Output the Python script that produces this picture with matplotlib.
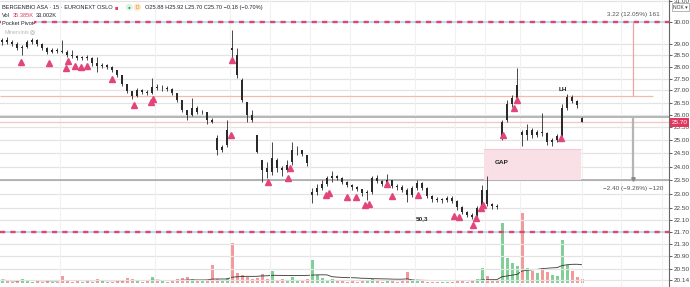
import matplotlib
matplotlib.use('Agg')
import matplotlib.pyplot as plt
import matplotlib.ticker as mticker
import matplotlib.transforms as mtransforms
import pandas as pd

# 15 min bars, BERGENBIO ASA (prices in NOK)
opens = [29.10, 29.19, 29.10, 29.01, 28.83, 28.88, 29.10, 29.19, 29.01, 28.83,
         28.65, 28.74, 28.70, 28.65, 28.52, 28.48, 28.39, 28.43, 28.39, 28.17,
         28.04, 28.09, 28.00, 27.87, 27.66, 27.27, 26.98, 26.77, 27.02, 26.94,
         26.89, 27.15, 27.10, 27.10, 27.06, 26.89, 26.61, 26.20, 26.00, 26.28,
         26.12, 26.12, 25.80, 25.10, 24.63, 24.83, 28.83, 28.52, 27.44, 26.53,
         26.00, 25.21, 24.26, 23.95, 23.81, 24.26, 23.95, 23.88, 24.18, 24.63,
         24.63, 24.44, 22.98, 23.09, 23.23, 23.38, 23.59, 23.66, 23.59, 23.45,
         23.34, 23.27, 23.20, 23.05, 23.09, 23.59, 23.48, 23.38, 23.52, 23.30,
         23.27, 23.16, 22.98, 23.23, 23.41, 23.23, 22.94, 22.84, 22.80, 22.80,
         22.87, 22.76, 22.55, 22.38, 22.28, 22.21, 22.52, 23.16, 22.66, 22.59,
         25.10, 25.80, 26.44, 26.69, 25.33, 25.21, 25.41, 25.21, 25.33, 25.29,
         24.94, 25.02, 25.17, 26.28, 26.73, 26.57, 25.88]
highs = [29.28, 29.33, 29.19, 29.10, 28.97, 29.19, 29.28, 29.24, 29.06, 28.88,
         28.83, 28.83, 29.19, 28.74, 28.74, 28.52, 28.48, 28.52, 28.43, 28.43,
         28.17, 28.13, 28.04, 27.87, 27.66, 27.27, 26.98, 27.10, 27.06, 27.02,
         27.53, 27.27, 27.23, 27.19, 27.10, 26.89, 26.61, 26.20, 26.69, 26.36,
         26.20, 26.12, 25.88, 25.21, 24.83, 25.80, 29.65, 28.83, 27.53, 26.53,
         26.20, 25.21, 24.26, 24.18, 24.94, 24.33, 24.03, 24.26, 24.94, 24.79,
         24.63, 24.44, 23.23, 23.38, 23.52, 23.66, 23.85, 23.70, 23.62, 23.48,
         23.38, 23.30, 23.20, 23.16, 23.66, 23.70, 23.52, 23.74, 23.52, 23.38,
         23.34, 23.23, 23.30, 23.52, 23.45, 23.27, 22.98, 22.91, 22.87, 22.94,
         22.94, 22.80, 22.59, 22.41, 22.35, 22.59, 23.34, 23.66, 22.69, 22.66,
         25.80, 26.61, 26.81, 27.96, 25.41, 25.65, 25.49, 25.41, 26.08, 25.33,
         25.10, 25.25, 26.44, 26.85, 26.81, 26.61, 25.92]
lows = [28.97, 29.01, 28.92, 28.74, 28.52, 28.83, 29.01, 28.92, 28.74, 28.56,
        28.61, 28.61, 28.61, 28.43, 28.39, 28.30, 28.30, 28.30, 28.04, 27.78,
        27.96, 27.91, 27.78, 27.57, 27.19, 26.89, 26.65, 26.73, 26.85, 26.81,
        26.85, 27.02, 26.98, 26.98, 26.81, 26.53, 26.12, 25.80, 25.96, 26.04,
        26.04, 25.65, 25.68, 24.44, 24.55, 24.75, 28.39, 27.53, 26.53, 25.72,
        25.72, 24.52, 23.45, 23.59, 23.70, 23.81, 23.66, 23.81, 24.07, 24.44,
        24.40, 24.03, 22.69, 22.98, 23.16, 23.30, 23.45, 23.52, 23.38, 23.27,
        23.16, 23.12, 22.94, 22.80, 23.02, 23.41, 23.30, 23.30, 23.23, 23.16,
        23.09, 22.73, 22.91, 23.16, 23.16, 22.87, 22.73, 22.73, 22.69, 22.73,
        22.69, 22.45, 22.31, 22.21, 22.14, 22.18, 22.45, 22.59, 22.48, 22.48,
        25.02, 25.72, 26.32, 26.61, 24.79, 25.02, 25.10, 25.13, 25.17, 24.83,
        24.79, 24.94, 25.10, 26.20, 26.48, 26.28, 25.70]
closes = [29.19, 29.10, 29.01, 28.83, 28.88, 29.10, 29.19, 29.01, 28.83, 28.65,
          28.74, 28.70, 28.65, 28.52, 28.48, 28.39, 28.43, 28.39, 28.17, 28.04,
          28.09, 28.00, 27.87, 27.66, 27.27, 26.98, 26.77, 27.02, 26.94, 26.89,
          27.15, 27.10, 27.10, 27.06, 26.89, 26.61, 26.20, 26.00, 26.28, 26.12,
          26.12, 25.80, 25.72, 24.63, 24.75, 25.41, 28.74, 27.66, 26.61, 26.00,
          25.80, 24.55, 23.88, 23.81, 24.33, 23.95, 23.88, 24.07, 24.63, 24.63,
          24.48, 24.14, 23.09, 23.23, 23.38, 23.59, 23.66, 23.59, 23.45, 23.34,
          23.27, 23.20, 23.05, 23.09, 23.59, 23.48, 23.38, 23.52, 23.30, 23.27,
          23.16, 22.98, 23.23, 23.41, 23.23, 22.94, 22.84, 22.80, 22.80, 22.87,
          22.76, 22.55, 22.38, 22.28, 22.21, 22.52, 23.16, 22.66, 22.59, 22.55,
          25.72, 26.44, 26.69, 27.23, 25.21, 25.41, 25.21, 25.33, 25.29, 24.94,
          25.02, 25.17, 26.28, 26.73, 26.57, 26.40, 25.70]
volumes = [6, 4, 3, 4, 8, 6, 3, 4, 3, 4, 3, 3, 14,
           4, 3, 6, 3, 4, 3, 8, 4, 3, 3, 4, 6, 10, 8, 4, 3, 4, 12, 6, 4, 3,
           4, 8, 10, 12, 8, 6, 4, 4,
           36, 8, 6, 10, 80, 20, 16, 12, 8, 10, 18, 8, 24, 6, 8, 6, 12, 6,
           4, 8, 46, 16, 10, 6, 8, 4, 4, 3, 4, 3, 4, 6, 8, 4, 3, 4, 4, 3,
           4, 22, 6, 4, 4, 3, 3, 3, 3, 3, 3, 4, 4, 3, 6, 8, 30, 14, 5, 4,
           120, 50, 40, 34, 140, 30, 24, 20, 30, 22, 16, 14, 86, 36, 24, 12, 8]

# Pocket pivot signals (bar position, price)
pivot_bars = [3.8, 9.4, 13.2, 12.8, 14.6, 15.8, 17.0, 22.0, 26.4, 29.8, 30.2,
              46.0, 45.8, 53.2, 57.2, 57.6, 64.8, 65.4, 69.0, 70.8, 72.6, 73.4,
              77.0, 78.0, 83.2, 90.4, 91.4, 94.2, 94.8, 95.8, 96.2, 100.2,
              102.4, 103.0, 111.8]
pivot_prices = [28.21, 28.17, 28.26, 27.96, 28.04, 28.00, 28.04, 27.49, 26.40,
                26.53, 26.65, 28.30, 25.21, 23.44, 23.59, 23.95, 22.98, 23.05,
                22.91, 22.91, 22.62, 22.66, 23.37, 22.94, 22.98, 22.24, 22.21,
                21.94, 22.18, 22.52, 22.62, 25.21, 26.28, 26.61, 25.10]

day_starts = [11.5, 30.5, 45.5, 53.5, 61.5, 69.5, 82.5, 90.5, 96.5, 103.5,
              116.0, 123.8, 132.0]

price_ticks = [20.14, 20.50, 20.90, 21.30, 21.70, 22.10, 22.50, 23.00, 23.50,
               24.00, 24.50, 25.00, 25.50, 26.00, 26.50, 27.00, 27.50, 28.00,
               28.50, 29.00, 30.00, 31.00]

resistance = 30.00
support = 21.70
range_up = (26.78, 30.00)
range_down = (23.50, 25.90)
last_price = 25.70
gap_low, gap_high = 23.50, 24.67
gap_from, gap_to = 96.4, 115.8
measure_bar = 126.2

plt.rcParams['font.family'] = ['Liberation Sans', 'DejaVu Sans']

fig = plt.figure(figsize=(6.9, 2.87), dpi=100)
ax = fig.add_axes([0, 0, 669 / 690, 1])
ax.set_yscale('log')
ax.set_ylim(19.93, 31.05)
ax.set_xlim(-0.4, 133.4)

# volume overlay (behind the price marks)
vax = ax.twinx()
vax.set_ylim(-8, 566)
up = [c >= o for o, c in zip(opens, closes)]
vcolors = ['#7fcf96' if u else '#f29a9a' for u in up]
xs = list(range(len(closes)))
vax.bar(xs, volumes, width=0.6, color=vcolors, lw=0)
vol_ma = pd.Series(volumes).rolling(20, min_periods=1).mean()
vax.plot(xs, vol_ma, color='#333', lw=0.6)
vax.set_yticks([])
for s in vax.spines.values():
    s.set_visible(False)
vax.set_zorder(0)
ax.set_zorder(1)
ax.patch.set_visible(False)

for t in price_ticks:
    ax.axhline(t, color='#e3e3e3', lw=0.9, zorder=0)
for d in day_starts:
    ax.axvline(d, color='#f1f1f1', lw=0.8, zorder=0)

ax.yaxis.tick_right()
ax.set_yticks(price_ticks)
ax.yaxis.set_major_formatter(mticker.FormatStrFormatter('%.2f'))
ax.yaxis.set_minor_locator(mticker.NullLocator())
ax.tick_params(axis='y', labelsize=4.6, length=2, width=0.6, colors='#444', pad=1.5,
               left=False, labelleft=False, right=True, labelright=True)
ax.set_xticks([])
for s in ['top', 'left', 'bottom']:
    ax.spines[s].set_visible(False)
ax.spines['right'].set_color('#666')
ax.spines['right'].set_linewidth(0.8)

# horizontal levels
ax.axhline(resistance, color='#bcdcf5', lw=1.4, zorder=1)
ax.axhline(resistance, color='#e2456f', lw=1.7, dashes=(2.2, 2.2), zorder=2)
ax.axhline(support, color='#bcdcf5', lw=1.4, zorder=1)
ax.axhline(support, color='#e2456f', lw=1.7, dashes=(2.2, 2.2), zorder=2)
ax.axhline(range_down[1], color='#a9a9a9', lw=1.2, zorder=1)
ax.axhline(range_down[0], color='#a9a9a9', lw=1.2, zorder=1)
ax.axhline(last_price, color='#f6c4c4', lw=0.9, zorder=1)
ax.hlines(range_up[0], -0.4, 130.2, color='#f5b9ae', lw=0.9, zorder=1)

# gap zone
ax.fill_between([gap_from, gap_to], gap_low, gap_high, color='#f9dfe6', lw=0, zorder=1)
ax.hlines(gap_high, gap_from, gap_to, color='#f2c9d4', lw=0.8, zorder=1)
ax.text(gap_from + 2.2, 24.14, 'GAP', fontsize=4.6, fontweight='bold', color='#222',
        va='center')

# price range measurements
ax.vlines(measure_bar, range_up[0], range_up[1], color='#f2a3a3', lw=0.9, zorder=2)
ax.text(measure_bar, 30.34, '3.22 (12.05%) 161', fontsize=4.6, color='#555',
        ha='center', va='center')
ax.vlines(measure_bar, range_down[0], range_down[1], color='#b5b5b5', lw=1.6, zorder=2)
ax.plot([measure_bar], [range_down[0] + 0.05], marker='v', ms=2.5, color='#888', zorder=3)
ax.text(measure_bar, 23.19, '\u22122.40 (\u22129.26%) \u2212120', fontsize=4.6,
        color='#555', ha='center', va='center')

# candles
ax.vlines(xs, lows, highs, color='#2a2a2a', lw=0.6, zorder=4)
bodies = [max(abs(c - o), 0.015) for o, c in zip(opens, closes)]
bottoms = [min(o, c) for o, c in zip(opens, closes)]
ax.bar(xs, bodies, bottom=bottoms, width=0.35, color='#2a2a2a', lw=0, zorder=4)

# pocket pivot markers
ax.plot(pivot_bars, pivot_prices, ls='none', marker='^', ms=3.8, color='#e2457a',
        mec='#e2457a', zorder=5)

ax.text(84, 22.14, '50,3', fontsize=4.6, fontweight='bold', color='#222',
        ha='center', va='center')
ax.text(112.2, 27.06, 'LH', fontsize=4.6, fontweight='bold', color='#222',
        ha='center', va='center')

# last price tag
trans = mtransforms.blended_transform_factory(ax.transAxes, ax.transData)
ax.text(1.004, last_price, '25.70', transform=trans, fontsize=4.6, color='white',
        va='center', ha='left',
        bbox=dict(boxstyle='square,pad=0.25', fc='#e0385f', ec='none'), zorder=10,
        clip_on=False)

# header
fig.text(0.986, 0.975, 'NOK \u25be', fontsize=3.6, color='#333', ha='center', va='center',
         bbox=dict(boxstyle='square,pad=0.3', fc='white', ec='#999', lw=0.5))
hx = ax.transAxes
hs = 4.1
ax.text(0.003, 0.975, 'BERGENBIO ASA \u00b7 15 \u00b7 EURONEXT OSLO', transform=hx,
        fontsize=hs, color='#1e222d', va='center')
ax.text(0.171, 0.975, '\u25a0', transform=hx, fontsize=4.0, color='#e0385f', va='center')
ax.text(0.191, 0.975, '\u25cf', transform=hx, fontsize=3.4, color='#2e9e5e', va='center',
        bbox=dict(boxstyle='circle,pad=0.2', fc='#daf2e2', ec='none'))
ax.text(0.203, 0.975, 'D', transform=hx, fontsize=3.4, color='#e08a1e', va='center',
        bbox=dict(boxstyle='circle,pad=0.25', fc='#fde6c8', ec='none'))
ax.text(0.217, 0.975, 'O25.88 H25.92 L25.70 C25.70 \u22120.18 (\u22120.70%)', transform=hx,
        fontsize=hs, color='#1e222d', va='center')
ax.text(0.003, 0.947, 'Vol', transform=hx, fontsize=hs, color='#1e222d', va='center')
ax.text(0.019, 0.947, '35.385K', transform=hx, fontsize=hs, color='#e0385f', va='center')
ax.text(0.054, 0.947, '33.002K', transform=hx, fontsize=hs, color='#1e222d', va='center')
ax.text(0.003, 0.919, 'Pocket Pivot', transform=hx, fontsize=hs, color='#1e222d',
        va='center', zorder=6,
        bbox=dict(boxstyle='square,pad=0.15', fc='white', ec='none'))
ax.text(0.049, 0.919, '\u25a0', transform=hx, fontsize=2.5, color='#e0385f', va='center',
        zorder=6)
ax.text(0.006, 0.888, 'Minervinis', transform=hx, fontsize=3.9, color='#b8b8b8',
        va='center', zorder=6)
ax.text(0.044, 0.888, '\u25ce', transform=hx, fontsize=4.2, color='#999', va='center',
        zorder=6)

fig.savefig('out.png', dpi=100)
